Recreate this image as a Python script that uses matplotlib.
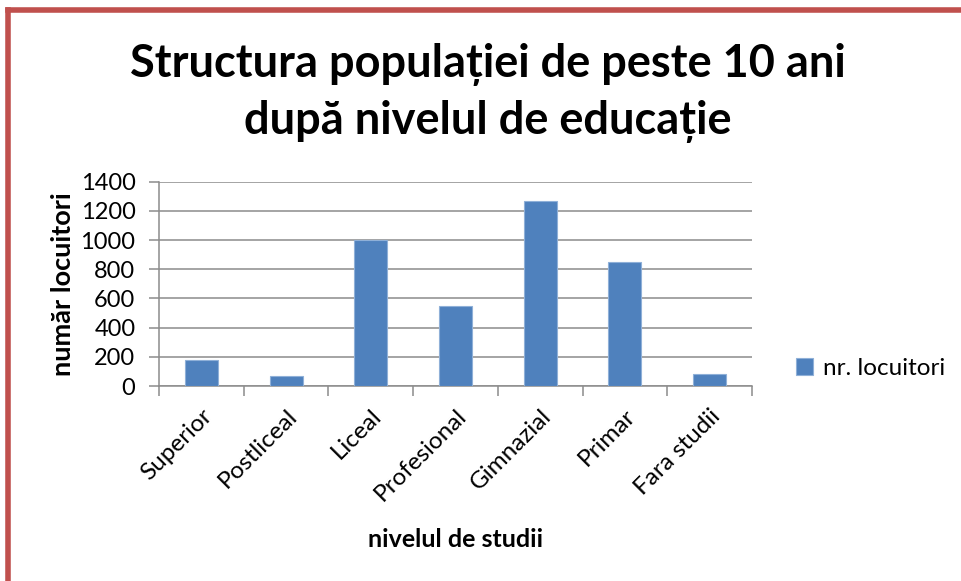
import matplotlib
matplotlib.use('Agg')
import matplotlib.pyplot as plt
from matplotlib.lines import Line2D
import numpy as np

categories = ['Superior', 'Postliceal', 'Liceal', 'Profesional', 'Gimnazial', 'Primar', 'Fara studii']
values = [175, 70, 1000, 545, 1265, 850, 80]
series_name = 'nr. locuitori'
title = 'Structura populației de peste 10 ani\ndupă nivelul de educație'

plt.rcParams['font.family'] = ['Lato', 'DejaVu Sans']

fig = plt.figure(figsize=(9.61, 5.81), dpi=100)
ax = fig.add_axes([0.1655, 0.3356, 0.617, 0.3517])

x = np.arange(len(categories))
ax.bar(x, values, width=0.39, color='#4F81BD', edgecolor='#8FB0D8', linewidth=0.8,
       label=series_name, zorder=3)

ax.set_xlim(-0.5, len(categories) - 0.5)
ax.set_ylim(0, 1400)
ax.set_yticks(range(0, 1401, 200))
ax.yaxis.grid(True, color='#8C8C8C', linewidth=1.1, zorder=0)

ax.set_xticks(x)
ax.set_xticklabels(categories, rotation=45, ha='right', rotation_mode='anchor', fontsize=17.5)
ax.set_xticks(np.arange(-0.5, len(categories)), minor=True)
ax.tick_params(axis='x', which='major', length=0, pad=14)
ax.tick_params(axis='x', which='minor', length=7, color='#8C8C8C', width=1.1)
ax.tick_params(axis='y', length=7, color='#8C8C8C', width=1.1, labelsize=17, pad=10)

for s in ['top', 'right']:
    ax.spines[s].set_visible(False)
for s in ['left', 'bottom']:
    ax.spines[s].set_color('#8C8C8C')
    ax.spines[s].set_linewidth(1.1)

ax.set_ylabel('număr locuitori', fontsize=19.5, fontweight='bold', labelpad=4)
fig.text(0.4745, 0.071, 'nivelul de studii', fontsize=18, fontweight='bold', ha='center', va='center')

fig.text(0.508, 0.84, title, fontsize=32.5, fontweight='bold', ha='center', va='center',
         linespacing=1.42)

ax.legend(loc='center left', bbox_to_anchor=(1.037, 0.085), frameon=False, fontsize=17.5,
          handlelength=0.7, handleheight=0.7, handletextpad=0.4)

# red frame on top and left
fig.add_artist(Line2D([0.0088, 0.0088], [0.0, 0.9828], transform=fig.transFigure,
                      color='#C0504D', linewidth=4, solid_capstyle='projecting'))
fig.add_artist(Line2D([0.0088, 1.0], [0.9828, 0.9828], transform=fig.transFigure,
                      color='#C0504D', linewidth=4, solid_capstyle='projecting'))

fig.savefig('out.png', dpi=100, facecolor='white')
